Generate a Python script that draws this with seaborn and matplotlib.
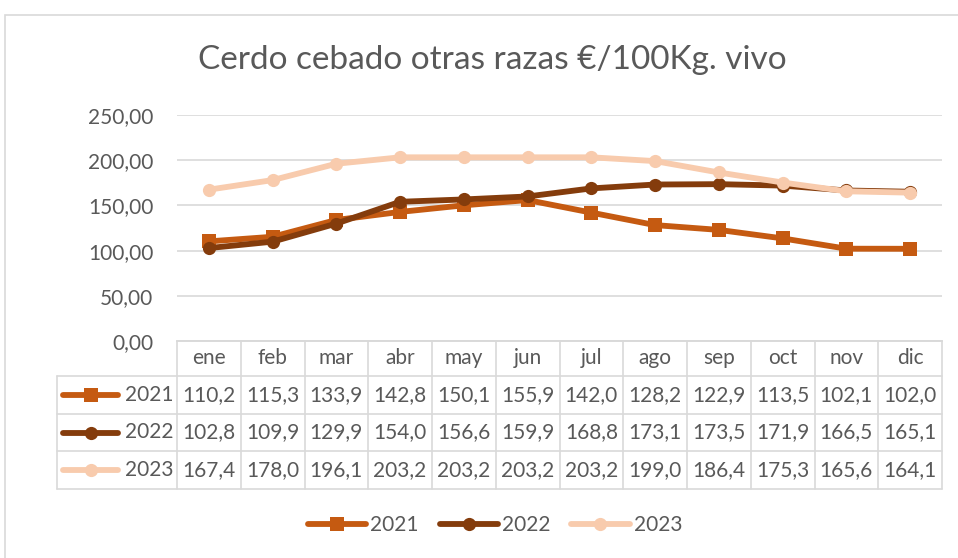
import numpy as np
import pandas as pd
import matplotlib
matplotlib.use("Agg")
import matplotlib.pyplot as plt
import matplotlib.transforms as mtransforms
from matplotlib.lines import Line2D
from matplotlib.patches import Rectangle
import seaborn as sns

# ---------------- data ----------------
meses = ["ene", "feb", "mar", "abr", "may", "jun", "jul", "ago", "sep", "oct", "nov", "dic"]
v2021 = [110.2, 115.3, 133.9, 142.8, 150.1, 155.9, 142.0, 128.2, 122.9, 113.5, 102.1, 102.0]
v2022 = [102.8, 109.9, 129.9, 154.0, 156.6, 159.9, 168.8, 173.1, 173.5, 171.9, 166.5, 165.1]
v2023 = [167.4, 178.0, 196.1, 203.2, 203.2, 203.2, 203.2, 199.0, 186.4, 175.3, 165.6, 164.1]
years = ["2021", "2022", "2023"]
yticks = [0, 50, 100, 150, 200, 250]
ytick_labels = ["0,00", "50,00", "100,00", "150,00", "200,00", "250,00"]
title = "Cerdo cebado otras razas €/100Kg. vivo"

series = {"2021": v2021, "2022": v2022, "2023": v2023}
df = pd.DataFrame({
    "idx": list(range(len(meses))) * 3,
    "mes": meses * 3,
    "valor": v2021 + v2022 + v2023,
    "año": [y for y in years for _ in meses],
})

colors = {"2021": "#C55A11", "2022": "#843C0C", "2023": "#F8CBAD"}
markers = {"2021": "s", "2022": "o", "2023": "o"}
TXT = "#595959"
GRID = "#D9D9D9"
FS = 15
MS = 9.5
LW = 4.2

sns.set_style("white")
plt.rcParams["font.family"] = ["Lato", "DejaVu Sans"]

W, H = 958, 558
fig = plt.figure(figsize=(W / 100, H / 100), dpi=100)

def fx(px):
    return px / W

def fy(py):
    return 1 - py / H

# chart border
fig.patches.append(Rectangle((fx(5), -0.02), 1.05, fy(15) + 0.02, transform=fig.transFigure,
                             fill=False, edgecolor=GRID, lw=1.2))

ax = fig.add_axes([fx(177), fy(341), fx(942) - fx(177), (341 - 115) / H])
sns.lineplot(data=df, x="idx", y="valor", hue="año", style="año", palette=colors,
             markers=markers, dashes=False, markersize=MS, linewidth=LW,
             markeredgewidth=0, legend=False, ax=ax, hue_order=years, style_order=years)
ax.set_xlim(-0.5, len(meses) - 0.5)
ax.set_ylim(0, 250)
ax.set_yticks(yticks)
ax.set_yticklabels(ytick_labels, fontsize=FS, color=TXT)
ax.set_xticks([])
ax.tick_params(axis="y", length=0, pad=17)
ax.yaxis.grid(True, color=GRID, lw=1.2)
ax.set_xlabel("")
ax.set_ylabel("")
for s in ["top", "left", "right"]:
    ax.spines[s].set_visible(False)
ax.spines["bottom"].set_color(GRID)
ax.spines["bottom"].set_linewidth(1.2)

# title
fig.text(fx(492), fy(60), title, ha="center", va="center", fontsize=24, color=TXT)

# ---------------- data table ----------------
trans = mtransforms.blended_transform_factory(ax.transData, fig.transFigure)
rows_y = [341, 376, 414, 451, 489]
x_left_lab = fx(57)
x0, x1 = -0.5, len(meses) - 0.5
lkw = dict(color=GRID, lw=1.2, clip_on=False)

# horizontal lines
fig.add_artist(Line2D([x0, x1], [fy(rows_y[0])] * 2, transform=trans, **lkw))
for ry in rows_y[1:]:
    fig.add_artist(Line2D([x_left_lab, fx(942)], [fy(ry)] * 2, transform=fig.transFigure, **lkw))
# vertical lines
for i in range(len(meses) + 1):
    xv = i - 0.5
    fig.add_artist(Line2D([xv, xv], [fy(rows_y[0]), fy(rows_y[-1])], transform=trans, **lkw))
fig.add_artist(Line2D([x_left_lab] * 2, [fy(rows_y[1]), fy(rows_y[-1])],
                      transform=fig.transFigure, **lkw))

# header
hc = (rows_y[0] + rows_y[1]) / 2
for i, m in enumerate(meses):
    fig.text(0, 0, m, transform=trans, fontsize=FS, color=TXT, ha="center", va="center").set_position((i, fy(hc)))

# rows
for r, y in enumerate(years):
    yc = (rows_y[r + 1] + rows_y[r + 2]) / 2
    fig.add_artist(Line2D([fx(63), fx(90.5), fx(118)], [fy(yc)] * 3, transform=fig.transFigure,
                          color=colors[y], lw=LW, marker=markers[y], markersize=MS,
                          markeredgewidth=0, markevery=[1]))
    fig.text(fx(174), fy(yc), y, fontsize=FS, color=TXT, ha="right", va="center")
    for i, v in enumerate(series[y]):
        t = fig.text(0, 0, f"{v:.1f}".replace(".", ","), transform=trans, fontsize=FS,
                     color=TXT, ha="center", va="center")
        t.set_position((i, fy(yc)))

# ---------------- legend ----------------
handles = [Line2D([], [], color=colors[y], lw=LW, marker=markers[y], markersize=MS,
                  markeredgewidth=0) for y in years]
leg = fig.legend(handles, years, loc="center", bbox_to_anchor=(fx(495), fy(525)), ncol=3,
                 frameon=False, fontsize=FS, handlelength=2.8, handletextpad=0.2,
                 columnspacing=1.0)
for t in leg.get_texts():
    t.set_color(TXT)

fig.savefig("out.png", dpi=100)
